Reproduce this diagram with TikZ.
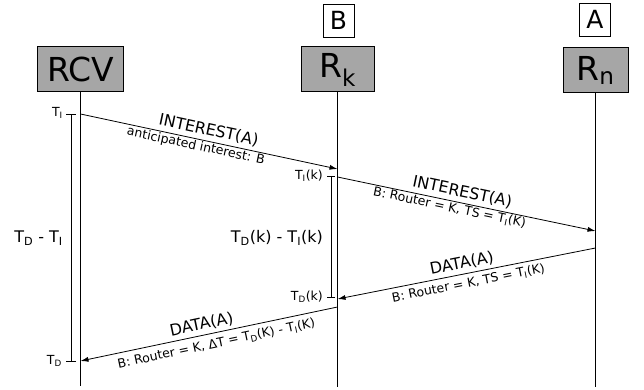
\documentclass[tikz,border=0pt]{standalone}
\usepackage{fontspec}
\setmainfont{DejaVu Sans}
\usetikzlibrary{arrows.meta, positioning}
\tikzstyle{entity} = [rectangle, draw=black, fill=gray!70, line width=1pt, inner sep=0pt, minimum height=45pt, font=\fontsize{33}{36}\selectfont]
\tikzstyle{tag} = [rectangle, draw=black, fill=white, line width=0.8pt, inner sep=0pt, minimum width=31pt, minimum height=33pt, font=\fontsize{25}{28}\selectfont]
\tikzstyle{lifeline} = [line width=1.1pt]
\tikzstyle{message} = [line width=0.8pt, -{Latex[length=8pt,width=5pt]}]
\tikzstyle{interval} = [line width=0.8pt]
\tikzstyle{msglabel} = [sloped, font=\fontsize{16}{18}\selectfont]
\tikzstyle{notelabel} = [sloped, inner sep=1pt, font=\fontsize{12.5}{14}\selectfont]
\tikzstyle{timelabel} = [inner sep=1pt, anchor=east, font=\fontsize{12.5}{14}\selectfont]
\tikzstyle{spanlabel} = [inner sep=1pt, anchor=east, font=\fontsize{16}{18}\selectfont]

\begin{document}
\begin{tikzpicture}[x=1pt, y=-1pt]
    \useasboundingbox (0,0) rectangle (644,390);
    % entities
    \node (rcv) [entity, minimum width=86pt] at (80.5,69.5) {RCV};
    \node (rk) [entity, minimum width=73pt] at (337.5,69.5) {R\textsubscript{k}};
    \node (rn) [entity, minimum width=65pt] at (595.5,70.5) {R\textsubscript{n}};
    \node (tagb) [tag] at (338.5,20.5) {B};
    \node (taga) [tag] at (595,19.5) {A};

    % lifelines
    \coordinate (rcvend) at (80.5,386);
    \coordinate (rkend) at (337.5,387);
    \coordinate (rnend) at (595.5,387);
    \draw [lifeline] (rcv) -- (rcvend);
    \draw [lifeline] (rk) -- (rkend);
    \draw [lifeline] (rn) -- (rnend);

    % messages
    \coordinate (int1a) at (80.5,114);
    \coordinate (int1b) at (337.5,169);
    \coordinate (int2a) at (337.5,177);
    \coordinate (int2b) at (595.5,231);
    \coordinate (dat1a) at (595.5,248);
    \coordinate (dat1b) at (337.5,299);
    \coordinate (dat2a) at (337.5,307);
    \coordinate (dat2b) at (80.5,361);
    \draw [message] (int1a) -- (int1b)
        node [msglabel, pos=0.49, above] {INTEREST(A)}
        node [notelabel, pos=0.455, below] {anticipated interest: B};
    \draw [message] (int2a) -- (int2b)
        node [msglabel, pos=0.475, above] {INTEREST(A)}
        node [notelabel, pos=0.44, below] {B: Router = K, TS = T\textsubscript{I}(K)};
    \draw [message] (dat1a) -- (dat1b)
        node [msglabel, pos=0.51, above] {DATA(A)}
        node [notelabel, pos=0.5, below=3pt] {B: Router = K, TS = T\textsubscript{I}(K)};
    \draw [message] (dat2a) -- (dat2b)
        node [msglabel, pos=0.52, above] {DATA(A)}
        node [notelabel, pos=0.48, below=4pt] {B: Router = K, ΔT = T\textsubscript{D}(K) - T\textsubscript{I}(K)};

    % intervals
    \coordinate (rcvti) at (71,114);
    \coordinate (rcvtd) at (71,362);
    \coordinate (rkti) at (331,176);
    \coordinate (rktd) at (331,298);
    \draw [interval, {Bar[width=10pt]}-{Bar[width=10pt]}] (rcvti) -- (rcvtd);
    \draw [interval, {Bar[width=8pt]}-{Bar[width=8pt]}] (rkti) -- (rktd);
    \node (lti) [timelabel] at (64,113) {T\textsubscript{I}};
    \node (ltd) [timelabel] at (63,361) {T\textsubscript{D}};
    \node (lspan) [spanlabel] at (64,238) {T\textsubscript{D} - T\textsubscript{I}};
    \node (ltik) [timelabel] at (324,176) {T\textsubscript{I}(k)};
    \node (ltdk) [timelabel] at (324,297) {T\textsubscript{D}(k)};
    \node (lspank) [spanlabel] at (324,238) {T\textsubscript{D}(k) - T\textsubscript{I}(k)};
\end{tikzpicture}
\end{document}
